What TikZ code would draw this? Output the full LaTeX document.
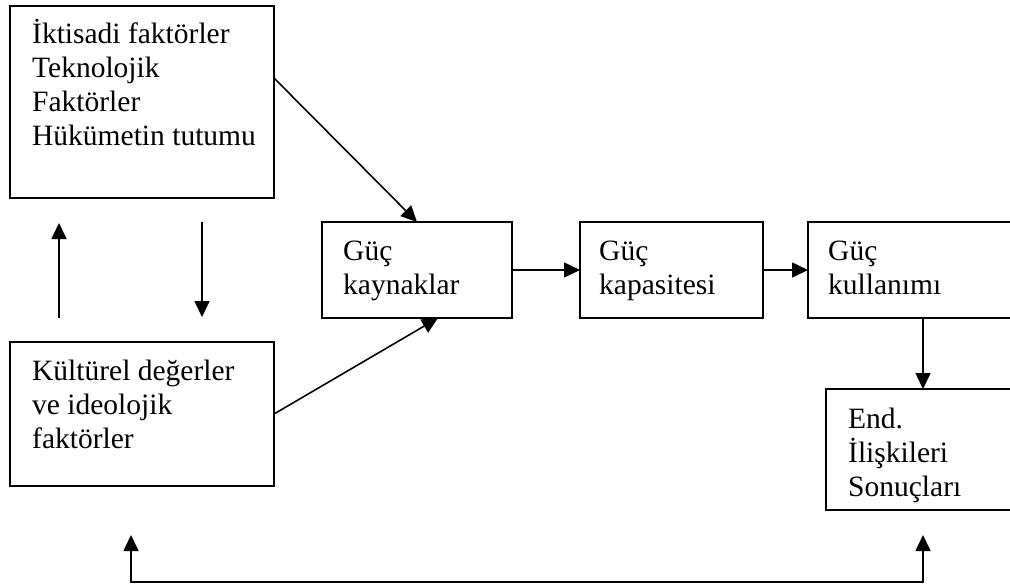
\documentclass[tikz,border=0pt]{standalone}
\usepackage{fontspec}
\setmainfont{Liberation Serif}
\usetikzlibrary{arrows.meta,calc}
\tikzset{
  box/.style={draw, line width=1.6pt, rectangle, anchor=north west, inner sep=0pt, outer sep=0pt},
  txt/.style={anchor=base west, inner sep=0pt, font=\fontsize{29.5}{34}\selectfont},
  arr/.style={line width=1.6pt, -{Triangle[length=16pt,width=15pt]}},
  barr/.style={line width=1.6pt, {Triangle[length=16pt,width=15pt]}-{Triangle[length=16pt,width=15pt]}}
}
\begin{document}
\begin{tikzpicture}[x=1pt,y=-1pt]
\useasboundingbox (0,0) rectangle (1010,587);
\clip (0,0) rectangle (1010,587);
% boxes
\node[box, minimum width=264pt, minimum height=192pt] (b1) at (10,6) {};
\node[box, minimum width=264pt, minimum height=144pt] (b2) at (10,342) {};
\node[box, minimum width=190pt, minimum height=96pt] (kay) at (322,222) {};
\node[box, minimum width=183pt, minimum height=96pt] (kap) at (580,222) {};
\node[box, minimum width=300pt, minimum height=96pt] (kul) at (808,222) {};
\node[box, minimum width=300pt, minimum height=121pt] (end) at (826,389) {};
% texts
\node[txt] (t1) at ($(b1.north west)+(22,37)$) {\begin{tabular}[t]{@{}l@{}}İktisadi faktörler\\Teknolojik\\Faktörler\\Hükümetin tutumu\end{tabular}};
\node[txt] (t2) at ($(b2.north west)+(22,38)$) {\begin{tabular}[t]{@{}l@{}}Kültürel değerler\\ve ideolojik\\faktörler\end{tabular}};
\node[txt] (t3) at ($(kay.north west)+(21,38)$) {\begin{tabular}[t]{@{}l@{}}Güç\\kaynaklar\end{tabular}};
\node[txt] (t4) at ($(kap.north west)+(19,38)$) {\begin{tabular}[t]{@{}l@{}}Güç\\kapasitesi\end{tabular}};
\node[txt] (t5) at ($(kul.north west)+(20,38)$) {\begin{tabular}[t]{@{}l@{}}Güç\\kullanımı\end{tabular}};
\node[txt] (t6) at ($(end.north west)+(22,39)$) {\begin{tabular}[t]{@{}l@{}}End.\\İlişkileri\\Sonuçları\end{tabular}};
% connectors
\draw[arr] ($(b1.north east)+(0,72)$) -- ($(kay.north west)+(95,0)$);
\draw[arr] ($(b2.north east)+(0,72)$) -- ($(kay.south west)+(116,0)$);
\draw[arr] ($(b2.north west)+(49,-24)$) -- ($(b1.south west)+(49,25)$);
\draw[arr] ($(b1.south west)+(192,24)$) -- ($(b2.north west)+(192,-25)$);
\draw[arr] (kay.east) -- (kap.west);
\draw[arr] (kap.east) -- (kul.west);
\draw[arr] ($(kul.south west)+(115,0)$) -- ($(end.north west)+(97,0)$);
\coordinate (lt) at ($(b2.south west)+(121,49)$);
\coordinate (lb) at ($(b2.south west)+(121,96)$);
\coordinate (rt) at ($(end.south west)+(97,25)$);
\coordinate (rb) at ($(end.south west)+(97,72)$);
\draw[barr] (lt) -- (lb) -- (rb) -- (rt);
\end{tikzpicture}
\end{document}
